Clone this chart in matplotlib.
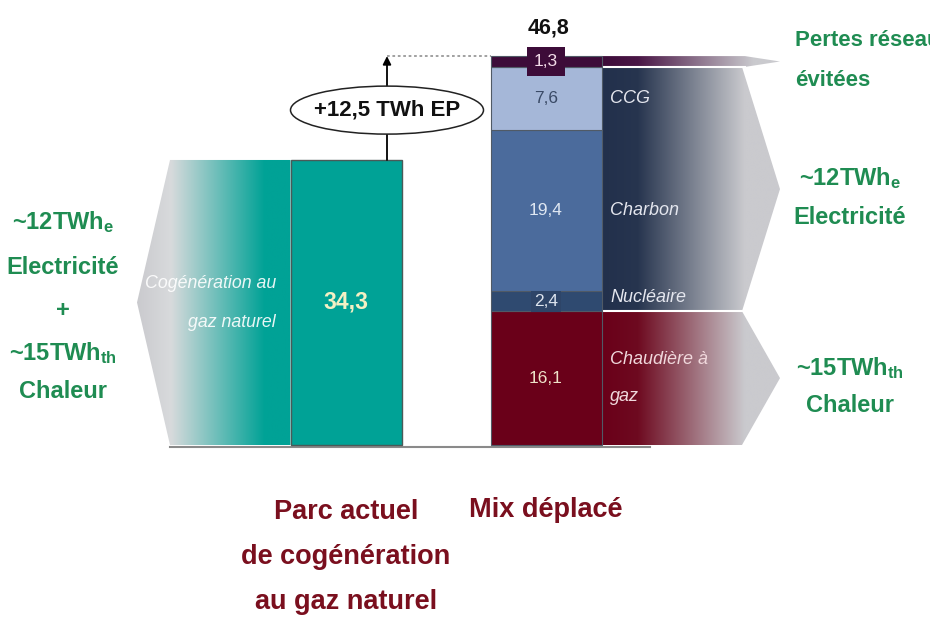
import numpy as np
import matplotlib
matplotlib.use('Agg')
import matplotlib.pyplot as plt
from matplotlib.patches import Polygon, Ellipse
from matplotlib.colors import to_rgb

plt.rcParams['font.family'] = ['Liberation Sans', 'DejaVu Sans']
plt.rcParams['mathtext.default'] = 'regular'

# donnees (TWh EP)
parc_actuel = 34.3
mix_noms = ['Chaudière à\ngaz', 'Nucléaire', 'Charbon', 'CCG', '']
mix_valeurs = [16.1, 2.4, 19.4, 7.6, 1.3]
mix_couleurs = ['#6a0019', '#2f4a70', '#4b6b9c', '#a5b7d8', '#3d0c39']
mix_txt = ['#eee2c8', '#dde4ee', '#dfe7f2', '#3a4a66', '#f2dbe8']

VERT = '#1f8c52'
ROUGE = '#7a0f1e'
TEAL = '#00a296'
GRIS = '#cacace'

fmt = lambda v: f"{v:.1f}".replace('.', ',')

fig = plt.figure(figsize=(9.3, 6.23), dpi=100)
ax = fig.add_axes([0, 0, 1, 1])
px = 8.31  # pixels par TWh


def degrade(verts, stops, x0, x1, y0, y1):
    poly = Polygon(verts, closed=True, facecolor='none', edgecolor='none')
    ax.add_patch(poly)
    xs = np.linspace(0, 1, 400)
    pos = [s[0] for s in stops]
    cols = np.array([to_rgb(s[1]) for s in stops])
    img = np.stack([np.interp(xs, pos, cols[:, k]) for k in range(3)], axis=-1)[None, :, :]
    im = ax.imshow(img, extent=[x0, x1, y0, y1], aspect='auto', origin='lower',
                   interpolation='bilinear', zorder=1)
    im.set_clip_path(poly)


# barre de gauche
xg, xd, w = 346, 546, 111
ax.bar(xg, parc_actuel, width=w, color=TEAL, edgecolor='#4a5a58', linewidth=1, zorder=3)
ax.text(xg, parc_actuel / 2, fmt(parc_actuel), ha='center', va='center',
        color='#f3f0c4', fontsize=16.5, fontweight='bold', zorder=5)

# chevron gauche
l0 = xg - w / 2
degrade([(137, parc_actuel / 2), (170, parc_actuel), (l0, parc_actuel), (l0, 0), (170, 0)],
        [(0, GRIS), (0.22, '#d8dadc'), (0.83, TEAL), (1, TEAL)], 137, l0, 0, parc_actuel)
ax.text(276, parc_actuel / 2 + 2.3, 'Cogénération au', ha='right', va='center',
        color='white', fontsize=12.8, style='italic', alpha=0.9, zorder=5)
ax.text(276, parc_actuel / 2 - 2.4, 'gaz naturel', ha='right', va='center',
        color='white', fontsize=12.8, style='italic', alpha=0.9, zorder=5)

# barre empilee
bas = np.concatenate([[0], np.cumsum(mix_valeurs)[:-1]])
total = sum(mix_valeurs)
ax.bar(xd, mix_valeurs, bottom=bas, width=w, color=mix_couleurs,
       edgecolor='#505a66', linewidth=0.8, zorder=3)
for i, (v, b) in enumerate(zip(mix_valeurs, bas)):
    bb = None
    if i == 1:
        bb = dict(boxstyle='square,pad=0.18', facecolor='#2e4568', edgecolor='none')
    if i == 4:
        bb = dict(boxstyle='square,pad=0.4', facecolor='#3d0c39', edgecolor='none')
    ax.text(xd, b + v / 2, fmt(v), ha='center', va='center', color=mix_txt[i],
            fontsize=12.5, bbox=bb, zorder=6)
ax.text(xd + 2, total + 3.4, fmt(total), ha='center', va='center',
        fontsize=15.5, fontweight='bold', color='#111111', zorder=6)

# fleches de droite
r0 = xd + w / 2
e_bas, e_haut = mix_valeurs[0], total - mix_valeurs[4]
degrade([(r0, e_haut), (742, e_haut), (780, (e_bas + e_haut) / 2), (742, e_bas), (r0, e_bas)],
        [(0, '#22304c'), (0.2, '#27354f'), (0.8, GRIS), (1, GRIS)], r0, 780, e_bas, e_haut)
degrade([(r0, e_bas), (742, e_bas), (780, e_bas / 2), (742, 0), (r0, 0)],
        [(0, '#6a0019'), (0.2, '#6e0a20'), (0.8, GRIS), (1, GRIS)], r0, 780, 0, e_bas)
degrade([(r0, total), (745, total), (780, (total + e_haut) / 2), (745, e_haut), (r0, e_haut)],
        [(0, '#3d0c39'), (0.2, '#4a1746'), (0.85, GRIS), (1, GRIS)], r0, 780, e_haut, total)
ax.plot([r0, 742], [e_bas, e_bas], color='white', lw=1.5, zorder=2)
ax.plot([r0, 745], [e_haut, e_haut], color='white', lw=1.5, zorder=2)

lab_col = ['#f0d8dc', '#e4e6ee', '#e4e6ee', '#e4e6ee']
for i in range(4):
    ym = bas[i] + mix_valeurs[i] / 2
    if i == 1:
        ym += 0.5
    lines = mix_noms[i].split('\n')
    if len(lines) == 1:
        ax.text(610, ym, lines[0], ha='left', va='center', color=lab_col[i],
                fontsize=13, style='italic', zorder=5)
    else:
        ax.text(610, ym + 2.2, lines[0], ha='left', va='center', color=lab_col[i],
                fontsize=13, style='italic', zorder=5)
        ax.text(610, ym - 2.2, lines[1], ha='left', va='center', color=lab_col[i],
                fontsize=13, style='italic', zorder=5)

# ecart +12,5
xa = 387
ax.annotate('', xy=(xa, total), xytext=(xa, parc_actuel),
            arrowprops=dict(arrowstyle='-|>', color='black', lw=1.3,
                            shrinkA=0, shrinkB=0, mutation_scale=12), zorder=4)
ax.plot([xa, xd - w / 2], [total, total], ls=(0, (1.5, 1.5)), color='#9a9a9a', lw=1.3, zorder=2)
ax.add_patch(Ellipse((xa, 40.3), 193, 48 / px, facecolor='white', edgecolor='#222222',
                     lw=1.1, zorder=5))
ax.text(xa, 40.3, f"+{fmt(total - parc_actuel)} TWh EP", ha='center', va='center',
        fontsize=16, fontweight='bold', color='#111111', zorder=6)

# ligne de base
ax.plot([170, 650], [-0.25, -0.25], color='#8a8a8a', lw=1.5, zorder=2)

# textes verts
kw = dict(color=VERT, fontsize=17, fontweight='bold', va='center')
ax.text(795, 48.7, 'Pertes réseau', ha='left', color=VERT, fontsize=16,
        fontweight='bold', va='center')
ax.text(795, 43.9, 'évitées', ha='left', color=VERT, fontsize=16,
        fontweight='bold', va='center')
ax.text(850, 32.1, '~12TWh$_\\mathregular{e}$', ha='center', **kw)
ax.text(850, 27.4, 'Electricité', ha='center', **kw)
ax.text(850, 9.3, '~15TWh$_\\mathregular{th}$', ha='center', **kw)
ax.text(850, 4.8, 'Chaleur', ha='center', **kw)

ax.text(63, 26.8, '~12TWh$_\\mathregular{e}$', ha='center', **kw)
ax.text(63, 21.3, 'Electricité', ha='center', **kw)
ax.text(63, 16.2, '+', ha='center', **kw)
ax.text(63, 11.1, '~15TWh$_\\mathregular{th}$', ha='center', **kw)
ax.text(63, 6.4, 'Chaleur', ha='center', **kw)

# titres du bas
kb = dict(color=ROUGE, fontsize=19.5, fontweight='bold', ha='center', va='center')
ax.text(xg, -8.1, 'Parc actuel', **kb)
ax.text(xg, -13.5, 'de cogénération', **kb)
ax.text(xg, -18.9, 'au gaz naturel', **kb)
ax.text(xd, -7.8, 'Mix déplacé', **kb)

ax.set_xlim(0, 930)
ax.set_ylim(-(623 - 445) / px, 445 / px)
ax.axis('off')

fig.savefig('out.png', dpi=100)
